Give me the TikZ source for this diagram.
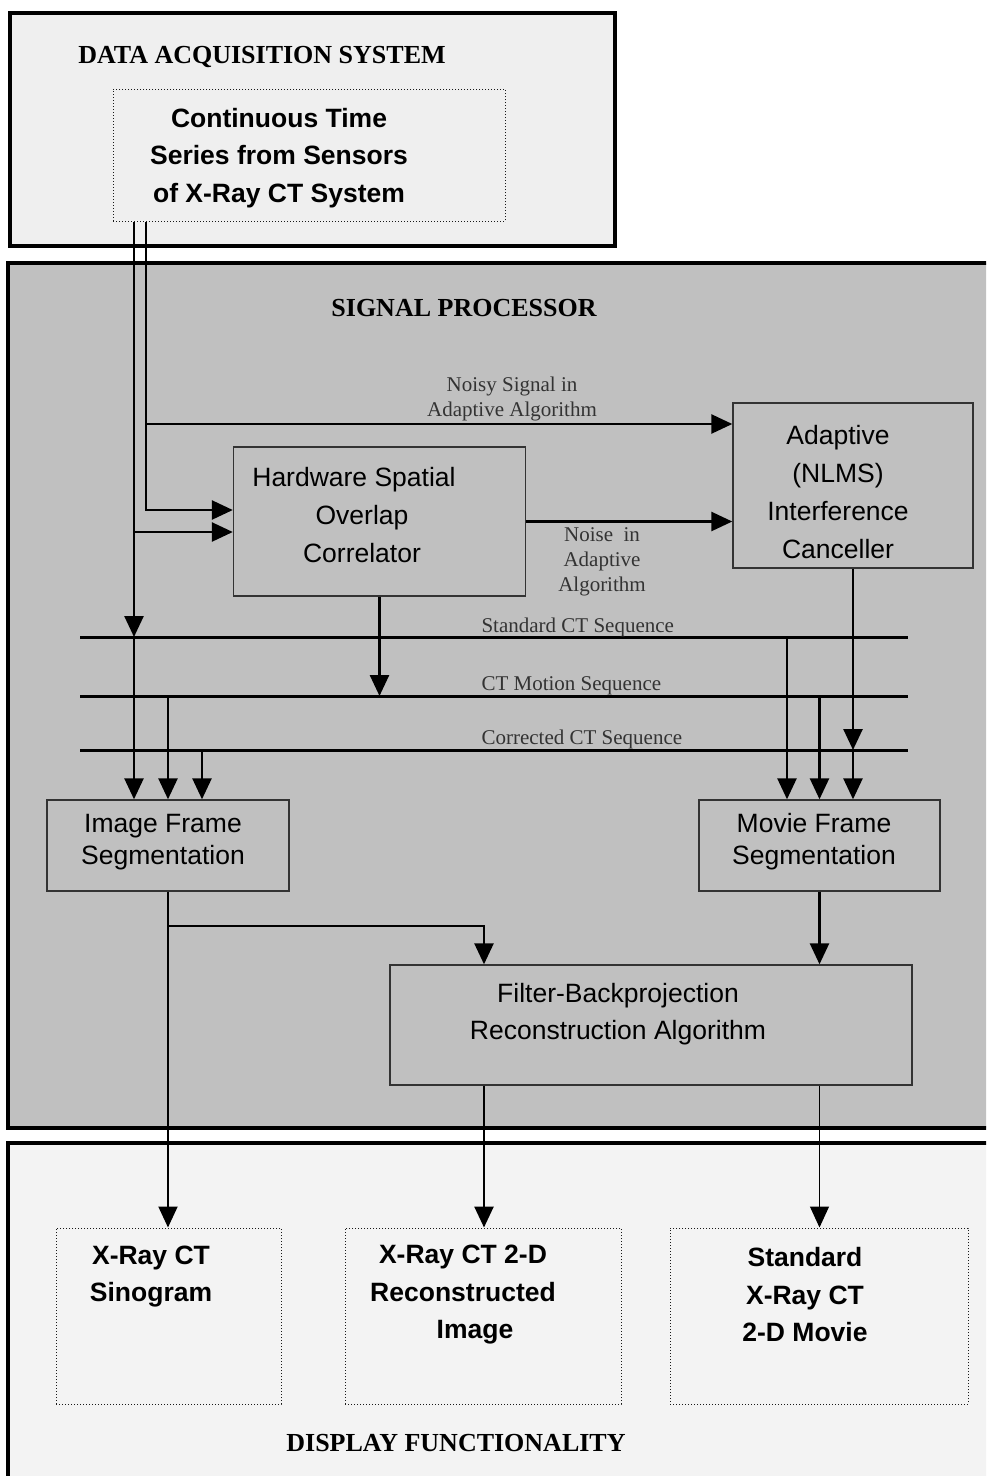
\documentclass[tikz,border=0pt]{standalone}
\usepackage{fontspec}
\setmainfont{Liberation Serif}
\newfontfamily\arialfont{Liberation Sans}
\usetikzlibrary{arrows.meta}

\definecolor{acqfill}{HTML}{EFEFEF}
\definecolor{procfill}{HTML}{C0C0C0}
\definecolor{dispfill}{HTML}{F3F3F3}

\begin{document}
\begin{tikzpicture}[x=1pt, y=-1pt,
  region/.style={draw=black, line width=4pt, inner sep=0pt},
  block/.style={draw=black!80, line width=1.4pt, inner sep=0pt},
  dotbox/.style={draw=black!90, dotted, line width=1pt, inner sep=0pt},
  head/.style={font=\fontsize{26}{30}\selectfont\bfseries},
  boxtext/.style={align=center, font=\arialfont\fontsize{26.5}{38}\selectfont},
  bigtext/.style={align=center, font=\arialfont\bfseries\fontsize{26.5}{37.5}\selectfont},
  seqtext/.style={text=black!80, font=\fontsize{21}{25}\selectfont},
  flow/.style={line width=2.6pt, -{Triangle[length=21pt, width=19pt]}}]
\useasboundingbox (0,0) rectangle (986,1476);
\clip (0,0) rectangle (986,1476);

% the three panels
\node[region, fill=acqfill, minimum width=605pt, minimum height=233pt] (das) at (312.5,129.5) {};
\node[region, fill=procfill, minimum width=1000pt, minimum height=865pt] (sp) at (508,695.5) {};
\node[region, fill=dispfill, minimum width=1000pt, minimum height=360pt] (disp) at (508,1323) {};
\node[head] (dastitle) at (262,57) {DATA ACQUISITION SYSTEM};
\node[head] (sptitle) at (464,308) {SIGNAL PROCESSOR};
\node[head] (disptitle) at (456,1443) {DISPLAY FUNCTIONALITY};

% sensor data
\node[dotbox, fill=acqfill, minimum width=392pt, minimum height=132pt] (src) at (309,155) {};
\node[bigtext] (srctext) at (279,158) {Continuous Time\\Series from Sensors\\of X-Ray CT System};

% processing blocks
\node[block, minimum width=292pt, minimum height=149pt] (hw) at (379.5,521.5) {};
\node[boxtext] (hwtext) at (362,515) {\hspace*{-16pt}Hardware Spatial\\Overlap\\Correlator};
\node[block, minimum width=240pt, minimum height=165pt] (anc) at (853,485.5) {};
\node[boxtext] (anctext) at (838,492) {Adaptive\\(NLMS)\\Interference\\Canceller};
\node[block, minimum width=242pt, minimum height=91pt] (img) at (168,845.5) {};
\node[boxtext, font=\arialfont\fontsize{26.5}{32}\selectfont] (imgtext) at (163,842) {Image Frame\\Segmentation};
\node[block, minimum width=241pt, minimum height=91pt] (mov) at (819.5,845.5) {};
\node[boxtext, font=\arialfont\fontsize{26.5}{32}\selectfont] (movtext) at (814,842) {Movie Frame\\Segmentation};
\node[block, minimum width=522pt, minimum height=120pt] (fbp) at (651,1025) {};
\node[boxtext, font=\arialfont\fontsize{26.5}{37}\selectfont] (fbptext) at (618,1014.5) {Filter-Backprojection\\Reconstruction Algorithm};

% outputs
\node[dotbox, minimum width=225pt, minimum height=176pt] (sino) at (168.5,1316) {};
\node[bigtext] (sinotext) at (151,1276.5) {X-Ray CT\\Sinogram};
\node[dotbox, minimum width=276pt, minimum height=176pt] (recon) at (483,1316) {};
\node[bigtext] (recontext) at (463,1295) {X-Ray CT 2-D\\Reconstructed\\\hspace*{24pt}Image};
\node[dotbox, minimum width=298pt, minimum height=176pt] (movie) at (819,1316) {};
\node[bigtext] (movietext) at (805,1295) {Standard\\X-Ray CT\\2-D Movie};

% sequence buses
\coordinate (stdL) at (80,637);  \coordinate (stdR) at (908,637);
\coordinate (motL) at (80,696);  \coordinate (motR) at (908,696);
\coordinate (corL) at (80,750);  \coordinate (corR) at (908,750);
\draw[line width=3pt] (stdL) -- (stdR);
\draw[line width=3pt] (motL) -- (motR);
\draw[line width=3pt] (corL) -- (corR);
\node[seqtext, anchor=base west] (stdlab) at (478,632) {Standard CT Sequence};
\node[seqtext, anchor=base west] (motlab) at (478,690) {CT Motion Sequence};
\node[seqtext, anchor=base west] (corlab) at (478,744) {Corrected CT Sequence};
\node[seqtext, align=center] (noisylab) at (512,398.5) {Noisy Signal in\\Adaptive Algorithm};
\node[seqtext, align=center] (noiselab) at (602,562) {Noise~ in\\Adaptive\\Algorithm};

% taps
\coordinate (tapA) at (134,0);
\coordinate (tapB) at (146,0);
\coordinate (tapC) at (202,0);
\coordinate (tapD) at (787,0);
\coordinate (tapE) at (484,926);

% signal paths
\draw[flow] (src.south -| tapB) |- ([yshift=11.5pt]hw.west);
\draw[flow] ([yshift=61.5pt]anc.west -| tapB) -- ([yshift=61.5pt]anc.west);
\draw[flow] (src.south -| tapA) -- (stdL -| tapA);
\draw[flow] ([yshift=-10.5pt]hw.west -| tapA) -- ([yshift=-10.5pt]hw.west);
\draw[flow] (stdL -| tapA) -- (img.north -| tapA);
\draw[flow] (hw.east) -- (hw.east -| anc.west);
\draw[flow] (hw.south) -- (hw.south |- motL);
\draw[flow] (anc.south) -- (anc.south |- corL);
\draw[flow] (anc.south |- corL) -- (anc.south |- mov.north);
\draw[flow] (motL -| img.north) -- (img.north);
\draw[flow] (corL -| tapC) -- (img.north -| tapC);
\draw[flow] (stdL -| tapD) -- (mov.north -| tapD);
\draw[flow] (motL -| mov.north) -- (mov.north);
\draw[flow, line width=2pt] (img.south) -- (img.south |- sino.north);
\draw[flow] (img.south |- tapE) -| (fbp.north -| tapE);
\draw[flow] (mov.south) -- (mov.south |- fbp.north);
\draw[flow] (fbp.south -| tapE) -- (recon.north -| tapE);
\draw[flow, line width=1.3pt] (fbp.south -| mov.south) -- (movie.north -| mov.south);
\end{tikzpicture}
\end{document}
